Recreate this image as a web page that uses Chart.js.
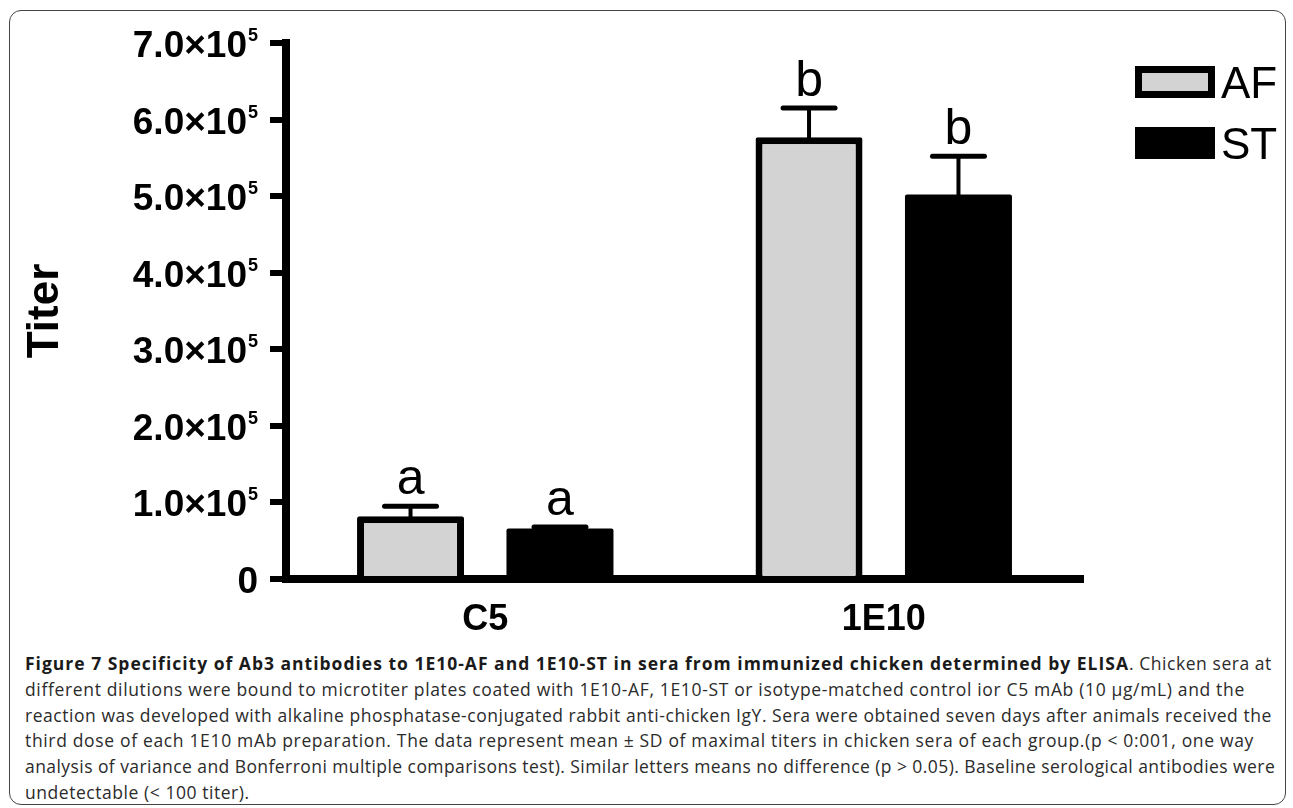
<!DOCTYPE html>
<html>
<head>
<meta charset="utf-8">
<script src="https://cdn.jsdelivr.net/npm/chart.js@4.4.1/dist/chart.umd.min.js"></script>
<style>
    body { margin: 0; background: #fff; width: 1293px; height: 808px; overflow: hidden; position: relative; }
    #frame { position: absolute; left: 9px; top: 10px; width: 1275px; height: 793px; border: 1.5px solid #444; border-radius: 12px; }
    #c_titer { position: absolute; left: 0; top: 0; }
    #caption { position: absolute; left: 25px; top: 651px; font-family: "Open Sans", sans-serif; font-size: 17.5px; line-height: 25.8px; color: #2b2b2b; white-space: nowrap; }
    #caption div { letter-spacing: 0.55px; }
    #caption b { color: #1a1a1a; letter-spacing: 1.0px; }
</style>
</head>
<body>
<div id="frame"></div>
<canvas id="c_titer" width="1293" height="645"></canvas>
<div id="caption">
<div><b>Figure 7 Specificity of Ab3 antibodies to 1E10-AF and 1E10-ST in sera from immunized chicken determined by ELISA</b>. Chicken sera at</div>
<div style="letter-spacing: 0.65px">different dilutions were bound to microtiter plates coated with 1E10-AF, 1E10-ST or isotype-matched control ior C5 mAb (10 µg/mL) and the</div>
<div>reaction was developed with alkaline phosphatase-conjugated rabbit anti-chicken IgY. Sera were obtained seven days after animals received the</div>
<div style="letter-spacing: 0.66px">third dose of each 1E10 mAb preparation. The data represent mean ± SD of maximal titers in chicken sera of each group.(p &lt; 0:001, one way</div>
<div style="letter-spacing: 0.43px">analysis of variance and Bonferroni multiple comparisons test). Similar letters means no difference (p &gt; 0.05). Baseline serological antibodies were</div>
<div>undetectable (&lt; 100 titer).</div>
</div>
<script>
const c_titer = document.getElementById('c_titer');

// data
const groups = ['C5', '1E10'];
const af_mean = [82000, 577000];
const af_sd = [13000, 38000];
const st_mean = [66000, 502000];
const st_sd = [2000, 50000];
const af_letters = ['a', 'b'];
const st_letters = ['a', 'b'];
const y_ticks = [0, 100000, 200000, 300000, 400000, 500000, 600000, 700000];

const sd_list = [af_sd, st_sd];
const letter_list = [af_letters, st_letters];

// error bars + significance letters
var errorbars = {
    id: 'errorbars',
    afterDatasetsDraw: (chart) => {
        const ctx = chart.ctx;
        const y = chart.scales.y;
        ctx.save();
        chart.data.datasets.forEach((ds, i) => {
            const meta = chart.getDatasetMeta(i);
            meta.data.forEach((bar, j) => {
                const top = y.getPixelForValue(ds.data[j] + sd_list[i][j]);
                ctx.strokeStyle = 'black';
                ctx.lineCap = 'round';
                ctx.lineWidth = 4;
                ctx.beginPath();
                ctx.moveTo(bar.x, bar.y);
                ctx.lineTo(bar.x, top);
                ctx.stroke();
                ctx.lineWidth = 5;
                ctx.beginPath();
                ctx.moveTo(bar.x - 26, top);
                ctx.lineTo(bar.x + 26, top);
                ctx.stroke();
                ctx.fillStyle = 'black';
                ctx.font = '50px "Liberation Sans", Arial, sans-serif';
                ctx.textAlign = 'center';
                ctx.textBaseline = 'alphabetic';
                ctx.fillText(letter_list[i][j], bar.x, top - 12);
            });
        });
        ctx.restore();
    }
};

// y tick labels with superscript exponent
var ylabels = {
    id: 'ylabels',
    afterDraw: (chart) => {
        const ctx = chart.ctx;
        const y = chart.scales.y;
        const xr = 258;
        ctx.save();
        ctx.fillStyle = 'black';
        ctx.textAlign = 'right';
        ctx.textBaseline = 'alphabetic';
        y.ticks.forEach((t) => {
            const py = y.getPixelForValue(t.value);
            if (t.value === 0) {
                ctx.font = 'bold 37px "Liberation Sans", Arial, sans-serif';
                ctx.fillText('0', xr, py + 14);
                return;
            }
            ctx.font = 'bold 18px "Liberation Sans", Arial, sans-serif';
            const sup = '5';
            const w = ctx.measureText(sup).width;
            ctx.fillText(sup, xr, py - 2);
            ctx.font = 'bold 37px "Liberation Sans", Arial, sans-serif';
            ctx.fillText((t.value / 100000).toFixed(1) + '×10', xr - w - 1, py + 14);
        });
        ctx.restore();
    }
};

// legend boxes at top right
var sidelegend = {
    id: 'sidelegend',
    afterDraw: (chart) => {
        const ctx = chart.ctx;
        const rows = [66, 127];
        ctx.save();
        chart.data.datasets.forEach((ds, i) => {
            const top = rows[i];
            ctx.fillStyle = ds.backgroundColor;
            ctx.fillRect(1135, top, 80, 32);
            if (ds.borderWidth) {
                ctx.lineWidth = 7;
                ctx.strokeStyle = ds.borderColor;
                ctx.strokeRect(1138.5, top + 3.5, 73, 25);
            }
            ctx.fillStyle = 'black';
            ctx.font = '44px "Liberation Sans", Arial, sans-serif';
            ctx.textAlign = 'left';
            ctx.textBaseline = 'alphabetic';
            ctx.fillText(ds.label, 1221, top + 32);
        });
        ctx.restore();
    }
};

var titer_data = {
    type: 'bar',
    data: {
        labels: groups,
        datasets: [
            {
                label: 'AF',
                data: af_mean,
                backgroundColor: '#d3d3d3',
                borderColor: 'black',
                borderWidth: 7,
                borderRadius: 2,
                categoryPercentage: 0.75,
                barPercentage: 0.716
            },
            {
                label: 'ST',
                data: st_mean,
                backgroundColor: 'black',
                borderWidth: 0,
                borderRadius: 2,
                categoryPercentage: 0.75,
                barPercentage: 0.716
            }
        ]
    },
    options: {
        responsive: false,
        animation: false,
        layout: {
            padding: { top: 43, right: 210, bottom: 0, left: 0 }
        },
        plugins: {
            legend: { display: false },
            tooltip: { enabled: false }
        },
        scales: {
            x: {
                grid: { drawOnChartArea: false, drawTicks: false },
                border: { display: true, color: 'black', width: 8 },
                ticks: {
                    color: 'black',
                    padding: 19,
                    font: { family: '"Liberation Sans", Arial, sans-serif', size: 36, weight: 'bold' }
                },
                afterFit: (scale) => {
                    scale.height = 66;
                }
            },
            y: {
                min: 0,
                max: 700000,
                afterBuildTicks: (scale) => {
                    scale.ticks = y_ticks.map((v) => ({ value: v }));
                },
                grid: {
                    drawOnChartArea: false,
                    drawTicks: true,
                    tickLength: 16,
                    lineWidth: 6,
                    color: 'black'
                },
                border: { display: true, color: 'black', width: 8 },
                ticks: { display: false },
                title: {
                    display: true,
                    text: 'Titer',
                    color: 'black',
                    padding: { top: 19, bottom: 0 },
                    font: { family: '"Liberation Sans", Arial, sans-serif', size: 44, weight: 'bold' }
                },
                afterFit: (scale) => {
                    scale.width = 286;
                }
            }
        }
    },
    plugins: [errorbars, ylabels, sidelegend]
};

var chart_titer = new Chart(c_titer, titer_data);
</script>
</body>
</html>
